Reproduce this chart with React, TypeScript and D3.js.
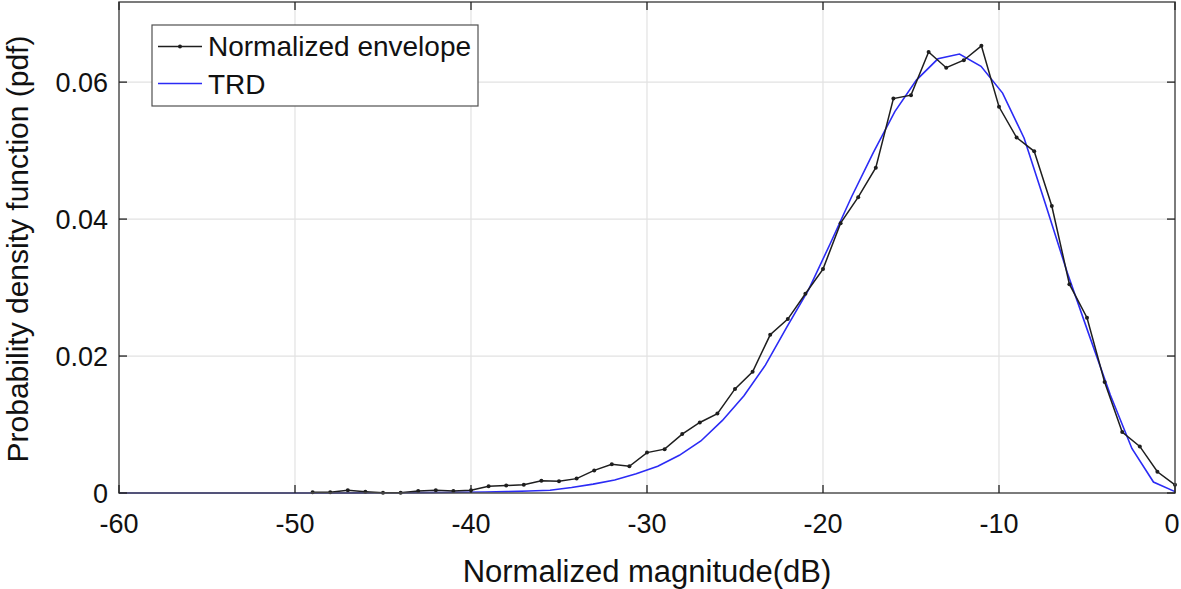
import React from "react";
import * as d3 from "d3";

const W = 1181;
const H = 589;

// Normalized envelope: magnitude (dB) -> pdf
const envX: number[] = [
  -49, -48, -47, -46, -45, -44, -43, -42, -41, -40,
  -39, -38, -37, -36, -35, -34, -33, -32, -31, -30,
  -29, -28, -27, -26, -25, -24, -23, -22, -21, -20,
  -19, -18, -17, -16, -15, -14, -13, -12, -11, -10,
  -9, -8, -7, -6, -5, -4, -3, -2, -1, 0,
];
const envY: number[] = [
  0.0001, 0.0001, 0.0004, 0.0002, 0.00005, 0.00005, 0.0003, 0.0004, 0.0003, 0.0004,
  0.001, 0.0011, 0.0012, 0.0018, 0.0017, 0.0021, 0.0033, 0.0042, 0.0039, 0.0059,
  0.0064, 0.0086, 0.0103, 0.0116, 0.0152, 0.0177, 0.0231, 0.0254, 0.0291, 0.0327,
  0.0394, 0.0432, 0.0475, 0.0576, 0.0581, 0.0644, 0.0621, 0.0632, 0.0653, 0.0564,
  0.0519, 0.0499, 0.0419, 0.0305, 0.0256, 0.0162, 0.0089, 0.0068, 0.0031, 0.0012,
];

// TRD: 50 samples evenly spaced from -60 dB to 0 dB
const trdStart = -60;
const trdEnd = 0;
const trdY: number[] = [
  0, 0, 0, 0, 0, 0, 0, 0, 0, 0,
  0.00001, 0.00002, 0.00003, 0.00004, 0.00006, 0.00008, 0.00011, 0.00015, 0.0002, 0.0003,
  0.0004, 0.0008, 0.0013, 0.0019, 0.0028, 0.0039, 0.0055, 0.0076, 0.0106, 0.0142,
  0.0187, 0.0243, 0.0297, 0.0364, 0.0433, 0.0497, 0.0557, 0.0603, 0.0634, 0.0641,
  0.0623, 0.0584, 0.0518, 0.0421, 0.0322, 0.0232, 0.0143, 0.0065, 0.0016, 0.0002,
];

const xTicks: number[] = [-60, -50, -40, -30, -20, -10, 0];
const yTicks: number[] = [0, 0.02, 0.04, 0.06];
const yTickLabels: string[] = ["0", "0.02", "0.04", "0.06"];

const legendLabels: string[] = ["Normalized envelope", "TRD"];
const xLabel = "Normalized magnitude(dB)";
const yLabel = "Probability density function (pdf)";

const FONT = "'Liberation Sans', Arial, Helvetica, sans-serif";

export default function App() {
  const left = 119;
  const right = 1175;
  const top = 2;
  const bottom = 493;

  const x = d3.scaleLinear().domain([-60, 0]).range([left, right]);
  const y = d3.scaleLinear().domain([0, 0.0717]).range([bottom, top]);

  const env = envX.map((v, i) => [v, envY[i]] as [number, number]);
  const trd = trdY.map(
    (v, i) =>
      [trdStart + ((trdEnd - trdStart) * i) / (trdY.length - 1), v] as [number, number]
  );

  const line = d3
    .line<[number, number]>()
    .x((d) => x(d[0]))
    .y((d) => y(d[1]));

  const tickLen = 8;
  const axisColor = "#505050";
  const gridColor = "#e2e2e2";
  const envColor = "#1e1e1e";
  const trdColor = "#2b2bf5";

  return (
    <svg
      width={W}
      height={H}
      style={{ position: "absolute", left: 0, top: 0, background: "#fff" }}
    >
      <rect x={0} y={0} width={W} height={H} fill="#fff" />
      {/* grid */}
      {xTicks
        .filter((t) => t !== -60 && t !== 0)
        .map((t) => (
          <line
            key={"gx" + t}
            x1={x(t)}
            x2={x(t)}
            y1={top}
            y2={bottom}
            stroke={gridColor}
            strokeWidth={1.2}
          />
        ))}
      {yTicks
        .filter((t) => t !== 0)
        .map((t) => (
          <line
            key={"gy" + t}
            x1={left}
            x2={right}
            y1={y(t)}
            y2={y(t)}
            stroke={gridColor}
            strokeWidth={1.2}
          />
        ))}

      {/* data */}
      <path d={line(trd) || ""} fill="none" stroke={trdColor} strokeWidth={1.6} />
      <path d={line(env) || ""} fill="none" stroke={envColor} strokeWidth={1.5} />
      {env.map((d, i) => (
        <circle key={"m" + i} cx={x(d[0])} cy={y(d[1])} r={2} fill={envColor} />
      ))}

      {/* axes box */}
      <rect
        x={left}
        y={top}
        width={right - left}
        height={bottom - top}
        fill="none"
        stroke={axisColor}
        strokeWidth={1.5}
      />
      {xTicks.map((t) => (
        <g key={"xt" + t}>
          <line x1={x(t)} x2={x(t)} y1={bottom} y2={bottom - tickLen} stroke="#222" strokeWidth={1.3} />
          <line x1={x(t)} x2={x(t)} y1={top} y2={top + tickLen} stroke="#222" strokeWidth={1.3} />
          <text
            x={Math.min(x(t), W - 9)}
            y={533}
            textAnchor="middle"
            fontFamily={FONT}
            fontSize={27}
            fill="#111"
          >
            {t}
          </text>
        </g>
      ))}
      {yTicks.map((t, i) => (
        <g key={"yt" + t}>
          <line x1={left} x2={left + tickLen} y1={y(t)} y2={y(t)} stroke="#222" strokeWidth={1.3} />
          <line x1={right} x2={right - tickLen} y1={y(t)} y2={y(t)} stroke="#222" strokeWidth={1.3} />
          <text
            x={108}
            y={y(t) + 10}
            textAnchor="end"
            fontFamily={FONT}
            fontSize={27}
            fill="#111"
          >
            {yTickLabels[i]}
          </text>
        </g>
      ))}

      {/* axis labels */}
      <text
        x={647}
        y={582}
        textAnchor="middle"
        fontFamily={FONT}
        fontSize={31}
        fill="#111"
      >
        {xLabel}
      </text>
      <text
        transform={`translate(28, 249) rotate(-90)`}
        textAnchor="middle"
        fontFamily={FONT}
        fontSize={30}
        fill="#111"
      >
        {yLabel}
      </text>

      {/* legend */}
      <g>
        <rect x={152} y={25} width={326} height={81} fill="#fff" stroke={axisColor} strokeWidth={1.2} />
        <line x1={158} x2={202} y1={46.5} y2={46.5} stroke={envColor} strokeWidth={1.5} />
        <circle cx={180} cy={46.5} r={2} fill={envColor} />
        <text x={208} y={56} fontFamily={FONT} fontSize={28} fill="#111">
          {legendLabels[0]}
        </text>
        <line x1={158} x2={202} y1={83.5} y2={83.5} stroke={trdColor} strokeWidth={1.6} />
        <text x={208} y={94} fontFamily={FONT} fontSize={28} fill="#111">
          {legendLabels[1]}
        </text>
      </g>
    </svg>
  );
}
